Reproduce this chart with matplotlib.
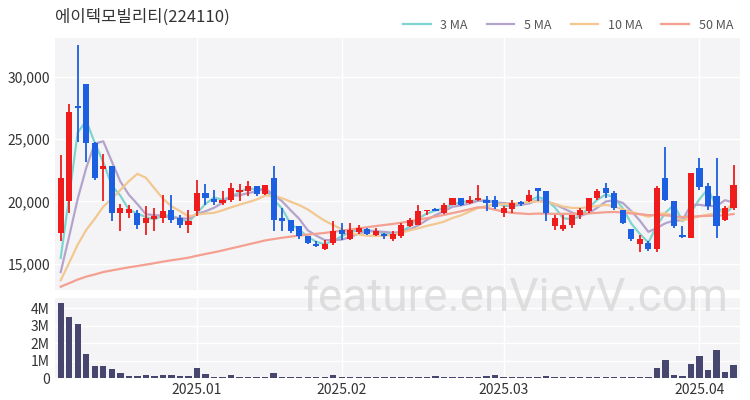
import matplotlib
matplotlib.use("Agg")
import matplotlib.pyplot as plt
import numpy as np
import pandas as pd

plt.rcParams['font.family'] = ['Noto Sans CJK KR', 'DejaVu Sans']

title = "에이텍모빌리티(224110)"
opens  = [17500,20000,27650,29400,24700,22600,22800,19100,19100,19100,18300,18600,18700,19300,18700,18100,
          19200,20650,20200,19850,20150,20750,20800,21200,20600,21900,18700,18500,18000,17200,16550,16200,
          16700,17700,17000,17550,17800,17300,17350,16950,17200,18000,18150,19200,19400,19100,19750,20300,
          19850,20080,20150,20100,19100,19400,19950,20000,21100,20800,18000,17800,18150,18900,19200,20250,
          21100,20650,19300,17750,16550,16700,16150,21850,20000,17300,17100,22650,21200,20400,18550,19500]
closes = [21900,27200,27500,24700,21900,22800,19100,19500,19400,18150,18700,18800,19200,18550,18100,18400,
          20700,20300,19950,20150,21100,20950,21200,20600,21300,18550,18400,17600,17200,16700,16400,16600,
          17600,17400,17700,17900,17400,17600,17200,17350,18150,18550,19200,19350,19250,19750,20300,19750,
          20100,20300,19900,19550,19500,19850,19800,20500,20800,19100,18700,18150,18900,19350,20250,20800,
          20650,19450,18250,16950,17000,16150,21050,20100,18000,17150,22250,21150,19600,18000,19500,21300]
highs  = [23700,27800,32500,29400,24800,23800,22800,19800,19700,19300,19600,19500,20500,20500,18900,19300,
          21700,21400,20900,20800,21500,21400,21600,21200,21300,22800,19500,18500,18000,17200,16800,16900,
          18400,18300,18300,18100,17900,17900,17500,17600,18300,18700,19700,19350,19450,19900,20300,20300,
          20450,21300,20450,20400,19650,20100,20050,20900,21100,20800,18900,18900,18900,19500,20300,21000,
          21500,20800,19300,17800,17300,16800,21200,24350,20000,18000,22300,23500,21450,23500,19600,22900]
lows   = [16800,19100,24800,23200,21700,20000,18400,17600,18700,17800,17300,17600,18300,18300,17900,17500,
          18800,19700,19700,19700,19950,20000,20400,20400,20500,17600,17600,17500,17000,16600,16350,16100,
          16500,16900,16900,17400,17300,17250,16950,16850,17100,17950,18100,18900,19200,19000,19700,19650,
          19800,20050,19200,19400,18750,19100,19600,19950,20000,18450,17700,17650,17900,18600,19100,20100,
          20300,19300,18200,16800,15950,16000,15950,20000,17900,17100,17050,20900,19300,17100,18400,19300]
volumes = [4.3,3.5,3.1,1.4,0.7,0.7,0.5,0.3,0.1,0.1,0.2,0.1,0.2,0.2,0.1,0.1,
           0.55,0.25,0.05,0.05,0.15,0.05,0.05,0.05,0.03,0.3,0.08,0.08,0.08,0.05,0.04,0.04,
           0.15,0.05,0.05,0.03,0.03,0.03,0.03,0.03,0.03,0.04,0.05,0.03,0.1,0.03,0.03,0.03,
           0.03,0.03,0.1,0.15,0.05,0.05,0.05,0.05,0.05,0.1,0.05,0.05,0.05,0.05,0.05,0.05,
           0.08,0.08,0.05,0.05,0.08,0.08,0.6,1.05,0.2,0.1,0.8,1.25,0.45,1.6,0.35,0.75]
prior_closes = [13000,12900,13100,13200,13000,12800,13100,13300,13000,12900,13100,13200,13000,13100,12900,
                13000,13200,13100,12900,13000,13100,13000,12800,13000,13200,13100,13000,12900,13000,13100,
                13200,13000,12900,13100,13000,13000,12900,13100,13200,13000,13100,13000,12900,13000,13100,
                12800,12500,12300,12200]
tick_pos = [16, 33, 52, 75]
tick_labels = ["2025.01", "2025.02", "2025.03", "2025.04"]
ma_windows = [3, 5, 10, 50]
ma_colors = ['#7fd4d0', '#b4a4cc', '#f2c890', '#f4a090']

n = len(closes)
x = np.arange(n)
allc = pd.Series(prior_closes + closes)

fig = plt.figure(figsize=(7.5, 4), dpi=100)
ax = fig.add_axes([0.073, 0.275, 0.913, 0.63])
axv = fig.add_axes([0.073, 0.055, 0.913, 0.2], sharex=ax)
bg = '#f4f4f6'
for a in (ax, axv):
    a.set_facecolor(bg)
    for s in a.spines.values():
        s.set_visible(False)
    a.grid(True, color='white', linewidth=1)
    a.set_axisbelow(True)
    a.tick_params(length=0, labelsize=10, colors='#333333')

red, blue = '#ee1c1c', '#1c5fe0'
for i in range(n):
    up = closes[i] >= opens[i]
    c = red if up else blue
    ax.vlines(x[i], lows[i], highs[i], color=c, linewidth=1.3, zorder=3)
    lo, hi = min(opens[i], closes[i]), max(opens[i], closes[i])
    ax.bar(x[i], max(hi - lo, 60), bottom=lo, width=0.72, color=c, zorder=4)

for w, c in zip(ma_windows, ma_colors):
    ma = allc.rolling(w).mean().values[len(prior_closes):]
    ax.plot(x, ma, color=c, linewidth=1.6, label=f"{w} MA", zorder=2)

ax.set_ylim(12900, 33100)
ax.set_yticks([15000, 20000, 25000, 30000])
ax.yaxis.set_major_formatter(matplotlib.ticker.FuncFormatter(lambda v, p: f"{int(v):,}"))
ax.set_xlim(-0.7, n - 0.3)
plt.setp(ax.get_xticklabels(), visible=False)

axv.bar(x, volumes, width=0.75, color='#46466e')
axv.set_ylim(0, 4.6)
axv.set_yticks([0, 1, 2, 3, 4])
axv.set_yticklabels(["0", "1M", "2M", "3M", "4M"])
axv.set_xticks(tick_pos)
axv.set_xticklabels(tick_labels)

fig.text(0.073, 0.935, title, fontsize=12, color='#333333', va='bottom')
ax.legend(loc='lower right', bbox_to_anchor=(1.0, 1.0), ncol=4, frameon=False,
          fontsize=9, handlelength=2.2, columnspacing=1.5, borderaxespad=0.1,
          labelcolor='#555555')
fig.text(0.687, 0.255, "feature.enVievV.com", fontsize=33, family=['Roboto', 'DejaVu Sans'],
         color='#d4d4d4', alpha=0.7, ha='center', va='center', zorder=10)
fig.savefig("out.png")
